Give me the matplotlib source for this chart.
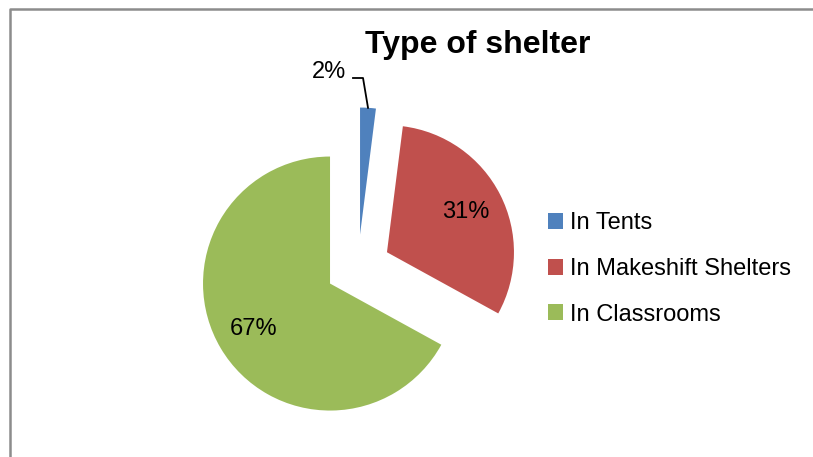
import matplotlib
matplotlib.use("Agg")
import matplotlib.pyplot as plt
from matplotlib.lines import Line2D
import numpy as np

plt.rcParams['font.family'] = ['Liberation Sans Narrow', 'Liberation Sans', 'DejaVu Sans']

# shelter data
labels = ['In Tents', 'In Makeshift Shelters', 'In Classrooms']
shares = [2, 31, 67]
colors = ['#4F81BD', '#C0504D', '#9BBB59']

W, H = 813, 457
fig = plt.figure(figsize=(W / 100, H / 100), dpi=100)
ax = fig.add_axes([0, 0, 1, 1])

# pie drawn in pixel-like units so the layout is easy to place
cx, cy, r = 358, H - 267, 127
small = lambda p: '' if p < 5 else '%.0f%%' % p
wedges, texts, autotexts = ax.pie(shares, colors=colors, startangle=90, counterclock=False,
                                  explode=[32.5] * 3, center=(cx, cy), radius=r,
                                  autopct=small, pctdistance=0.7,
                                  textprops={'fontsize': 17, 'color': 'black'})
ax.set_xlim(0, W)
ax.set_ylim(0, H)
ax.set_aspect('auto')
ax.axis('off')

# leader line for the small slice
w = wedges[0]
mid = np.deg2rad((w.theta1 + w.theta2) / 2)
tip = (w.center[0] + w.r * np.cos(mid), w.center[1] + w.r * np.sin(mid))
ly = H - 78
ax.plot([353, tip[0] - 5, tip[0]], [ly, ly, tip[1]], color='black', lw=1.3)
ax.text(329, H - 72, '%d%%' % shares[0], fontsize=17, ha='center', va='center')

ax.legend(wedges, labels, loc='center left', bbox_to_anchor=(548 / W, 1 - 269 / H),
          bbox_transform=fig.transFigure, frameon=False, fontsize=17,
          handlelength=0.65, handleheight=0.65, handletextpad=0.3,
          labelspacing=1.0, borderpad=0, borderaxespad=0)

fig.text(478 / W, 1 - 45 / H, 'Type of shelter', ha='center', va='center',
         fontsize=23, fontweight='bold')

# chart border (cut off at right and bottom)
fig.add_artist(Line2D([10 / W, 10 / W, 1], [0, 1 - 8.5 / H, 1 - 8.5 / H],
                      transform=fig.transFigure, color='#8c8c8c', lw=1.8))

fig.savefig('out.png', dpi=100)
